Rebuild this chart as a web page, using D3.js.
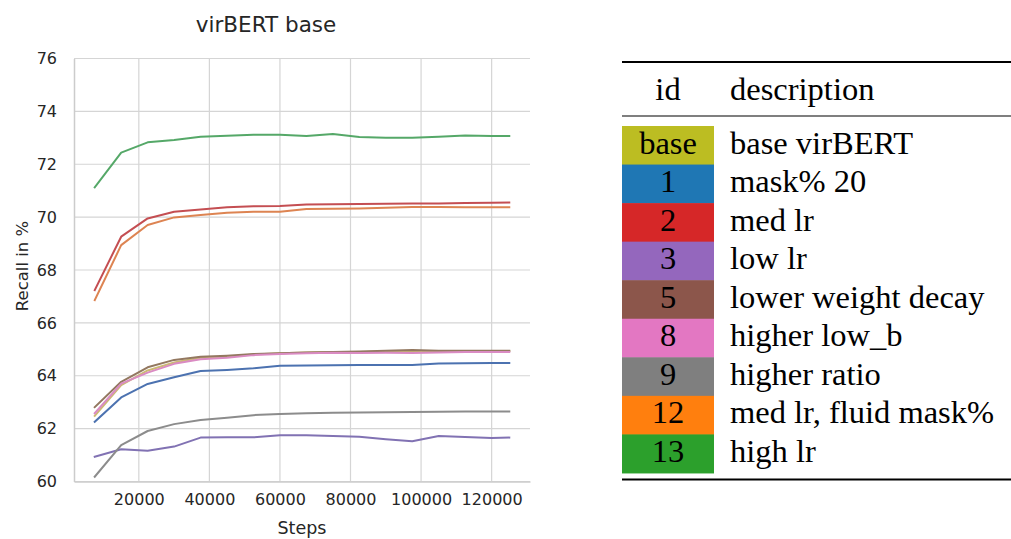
<!DOCTYPE html>
<html>
  <head>
    <style>
      body,
      html {
        width: 1011px;
        height: 539px;
        margin: 0;
        padding: 0;
        overflow: hidden;
        background: #fff;
      }

      svg {
        display: block;
      }

      .sans {
        font-family: "DejaVu Sans", sans-serif;
      }

      .serif {
        font-family: "Liberation Serif", "DejaVu Serif", serif;
      }
    </style>
  </head>
  <body>
    <script src="https://cdn.jsdelivr.net/npm/d3@7"></script>
    <script>
      // training steps (checkpoints)
      const steps = [
        7500, 15000, 22500, 30000, 37500, 45000, 52500, 60000, 67500, 75000,
        82500, 90000, 97500, 105000, 112500, 120000, 125000,
      ];

      // recall in % per run
      const runBase = [62.48, 63.65, 64.2, 64.5, 64.68, 64.72, 64.8, 64.85, 64.88, 64.9, 64.9, 64.92, 64.92, 64.92, 64.93, 64.94, 64.94];
      const run1 = [62.26, 63.18, 63.69, 63.94, 64.18, 64.22, 64.28, 64.38, 64.39, 64.4, 64.41, 64.41, 64.41, 64.46, 64.47, 64.48, 64.48];
      const run2 = [67.24, 69.26, 69.95, 70.2, 70.29, 70.37, 70.41, 70.42, 70.48, 70.49, 70.5, 70.51, 70.52, 70.52, 70.53, 70.54, 70.55];
      const run3 = [60.94, 61.22, 61.16, 61.32, 61.66, 61.67, 61.67, 61.75, 61.75, 61.72, 61.69, 61.6, 61.52, 61.72, 61.68, 61.65, 61.66];
      const run5 = [62.81, 63.77, 64.32, 64.6, 64.72, 64.76, 64.82, 64.85, 64.88, 64.9, 64.92, 64.95, 64.97, 64.95, 64.95, 64.95, 64.95];
      const run8 = [62.58, 63.7, 64.12, 64.45, 64.62, 64.68, 64.78, 64.82, 64.85, 64.87, 64.86, 64.87, 64.86, 64.88, 64.9, 64.9, 64.9];
      const run9 = [60.18, 61.38, 61.91, 62.17, 62.33, 62.41, 62.51, 62.55, 62.58, 62.6, 62.61, 62.62, 62.63, 62.64, 62.65, 62.65, 62.65];
      const run12 = [66.86, 68.94, 69.7, 69.99, 70.08, 70.17, 70.2, 70.2, 70.31, 70.32, 70.33, 70.35, 70.38, 70.38, 70.37, 70.37, 70.37];
      const run13 = [71.13, 72.44, 72.83, 72.92, 73.04, 73.08, 73.12, 73.12, 73.07, 73.14, 73.03, 73.0, 73.0, 73.04, 73.09, 73.07, 73.07];

      // table rows
      const ids = ["base", "1", "2", "3", "5", "8", "9", "12", "13"];
      const descriptions = [
        "base virBERT",
        "mask% 20",
        "med lr",
        "low lr",
        "lower weight decay",
        "higher low_b",
        "higher ratio",
        "med lr, fluid mask%",
        "high lr",
      ];
      const series = [runBase, run1, run2, run3, run5, run8, run9, run12, run13];

      const yTicks = [60, 62, 64, 66, 68, 70, 72, 74, 76];
      const xTicks = [20000, 40000, 60000, 80000, 100000, 120000];

      // seaborn "deep" for the lines, tab10 for the table cells
      const lineColors = ["#ccb974", "#4c72b0", "#c44e52", "#8172b3", "#937860", "#da8bc3", "#8c8c8c", "#dd8452", "#55a868"];
      const cellColors = ["#bcbd22", "#1f77b4", "#d62728", "#9467bd", "#8c564b", "#e377c2", "#7f7f7f", "#ff7f0e", "#2ca02c"];

      const width = 1011;
      const height = 539;

      const svg = d3
        .select("body")
        .append("svg")
        .attr("width", width)
        .attr("height", height);

      const plot = { left: 74, right: 530, top: 58.5, bottom: 481.5 };

      // matplotlib-like 5% margin on x
      const xMin = d3.min(steps);
      const xMax = d3.max(steps);
      const pad = (xMax - xMin) * 0.05;

      const x = d3
        .scaleLinear()
        .domain([xMin - pad, xMax + pad])
        .range([plot.left, plot.right]);

      const y = d3
        .scaleLinear()
        .domain([60, 76])
        .range([plot.bottom, plot.top]);

      // grid
      svg
        .append("g")
        .selectAll("line")
        .data(yTicks)
        .enter()
        .append("line")
        .attr("x1", plot.left)
        .attr("x2", plot.right)
        .attr("y1", (d) => y(d))
        .attr("y2", (d) => y(d))
        .attr("stroke", "#d5d5d5")
        .attr("stroke-width", 1.2);

      svg
        .append("g")
        .selectAll("line")
        .data(xTicks)
        .enter()
        .append("line")
        .attr("x1", (d) => x(d))
        .attr("x2", (d) => x(d))
        .attr("y1", plot.top)
        .attr("y2", plot.bottom)
        .attr("stroke", "#d5d5d5")
        .attr("stroke-width", 1.2);

      // axes
      const yAxis = svg
        .append("g")
        .attr("transform", `translate(${plot.left},0)`)
        .call(
          d3
            .axisLeft(y)
            .tickValues(yTicks)
            .tickSize(0)
            .tickPadding(17)
            .tickFormat(d3.format("d"))
        );

      const xAxis = svg
        .append("g")
        .attr("transform", `translate(0,${plot.bottom})`)
        .call(
          d3
            .axisBottom(x)
            .tickValues(xTicks)
            .tickSize(0)
            .tickPadding(12)
            .tickFormat(d3.format("d"))
        );

      [xAxis, yAxis].forEach((g) => {
        g.attr("font-family", null).attr("font-size", null);
        g.select(".domain").attr("stroke", "#cccccc").attr("stroke-width", 1.5);
        g.selectAll("text")
          .attr("class", "sans")
          .attr("fill", "#262626")
          .style("font-size", "16px");
      });

      // lines
      const line = d3
        .line()
        .x((d, i) => x(steps[i]))
        .y((d) => y(d));

      svg
        .append("g")
        .selectAll("path")
        .data(series)
        .enter()
        .append("path")
        .attr("d", (d) => line(d))
        .attr("fill", "none")
        .attr("stroke", (d, i) => lineColors[i])
        .attr("stroke-width", 2)
        .attr("stroke-linejoin", "round")
        .attr("stroke-linecap", "square");

      // title + labels
      svg
        .append("text")
        .attr("class", "sans")
        .attr("x", 266)
        .attr("y", 31.5)
        .attr("text-anchor", "middle")
        .attr("fill", "#262626")
        .style("font-size", "21.5px")
        .text("virBERT base");

      svg
        .append("text")
        .attr("class", "sans")
        .attr("x", (plot.left + plot.right) / 2)
        .attr("y", 534)
        .attr("text-anchor", "middle")
        .attr("fill", "#262626")
        .style("font-size", "17.5px")
        .text("Steps");

      svg
        .append("text")
        .attr("class", "sans")
        .attr("transform", "translate(28,266) rotate(-90)")
        .attr("text-anchor", "middle")
        .attr("fill", "#262626")
        .style("font-size", "16.5px")
        .text("Recall in %");

      // table
      const table = { left: 622, right: 1011, cellRight: 714, idX: 668, descX: 730 };
      const rowTop = 126;
      const rowH = 38.55;
      const tsize = "32.5px";

      svg
        .append("line")
        .attr("x1", table.left)
        .attr("x2", table.right)
        .attr("y1", 62)
        .attr("y2", 62)
        .attr("stroke", "#000")
        .attr("stroke-width", 2);

      svg
        .append("line")
        .attr("x1", table.left)
        .attr("x2", table.right)
        .attr("y1", 116)
        .attr("y2", 116)
        .attr("stroke", "#000")
        .attr("stroke-width", 1.2);

      svg
        .append("line")
        .attr("x1", table.left)
        .attr("x2", table.right)
        .attr("y1", 479.5)
        .attr("y2", 479.5)
        .attr("stroke", "#000")
        .attr("stroke-width", 2);

      svg
        .append("text")
        .attr("class", "serif")
        .attr("x", table.idX)
        .attr("y", 99.5)
        .attr("text-anchor", "middle")
        .style("font-size", tsize)
        .text("id");

      svg
        .append("text")
        .attr("class", "serif")
        .attr("x", table.descX)
        .attr("y", 99.5)
        .style("font-size", tsize)
        .text("description");

      const rows = svg
        .append("g")
        .selectAll("g")
        .data(ids)
        .enter()
        .append("g")
        .attr("transform", (d, i) => `translate(0,${rowTop + i * rowH})`);

      rows
        .append("rect")
        .attr("x", table.left)
        .attr("y", 0)
        .attr("width", table.cellRight - table.left)
        .attr("height", rowH + 0.5)
        .attr("fill", (d, i) => cellColors[i]);

      rows
        .append("text")
        .attr("class", "serif")
        .attr("x", table.idX)
        .attr("y", 27.5)
        .attr("text-anchor", "middle")
        .style("font-size", tsize)
        .text((d) => d);

      rows
        .append("text")
        .attr("class", "serif")
        .attr("x", table.descX)
        .attr("y", 27.5)
        .style("font-size", tsize)
        .text((d, i) => descriptions[i]);
    </script>
  </body>
</html>
